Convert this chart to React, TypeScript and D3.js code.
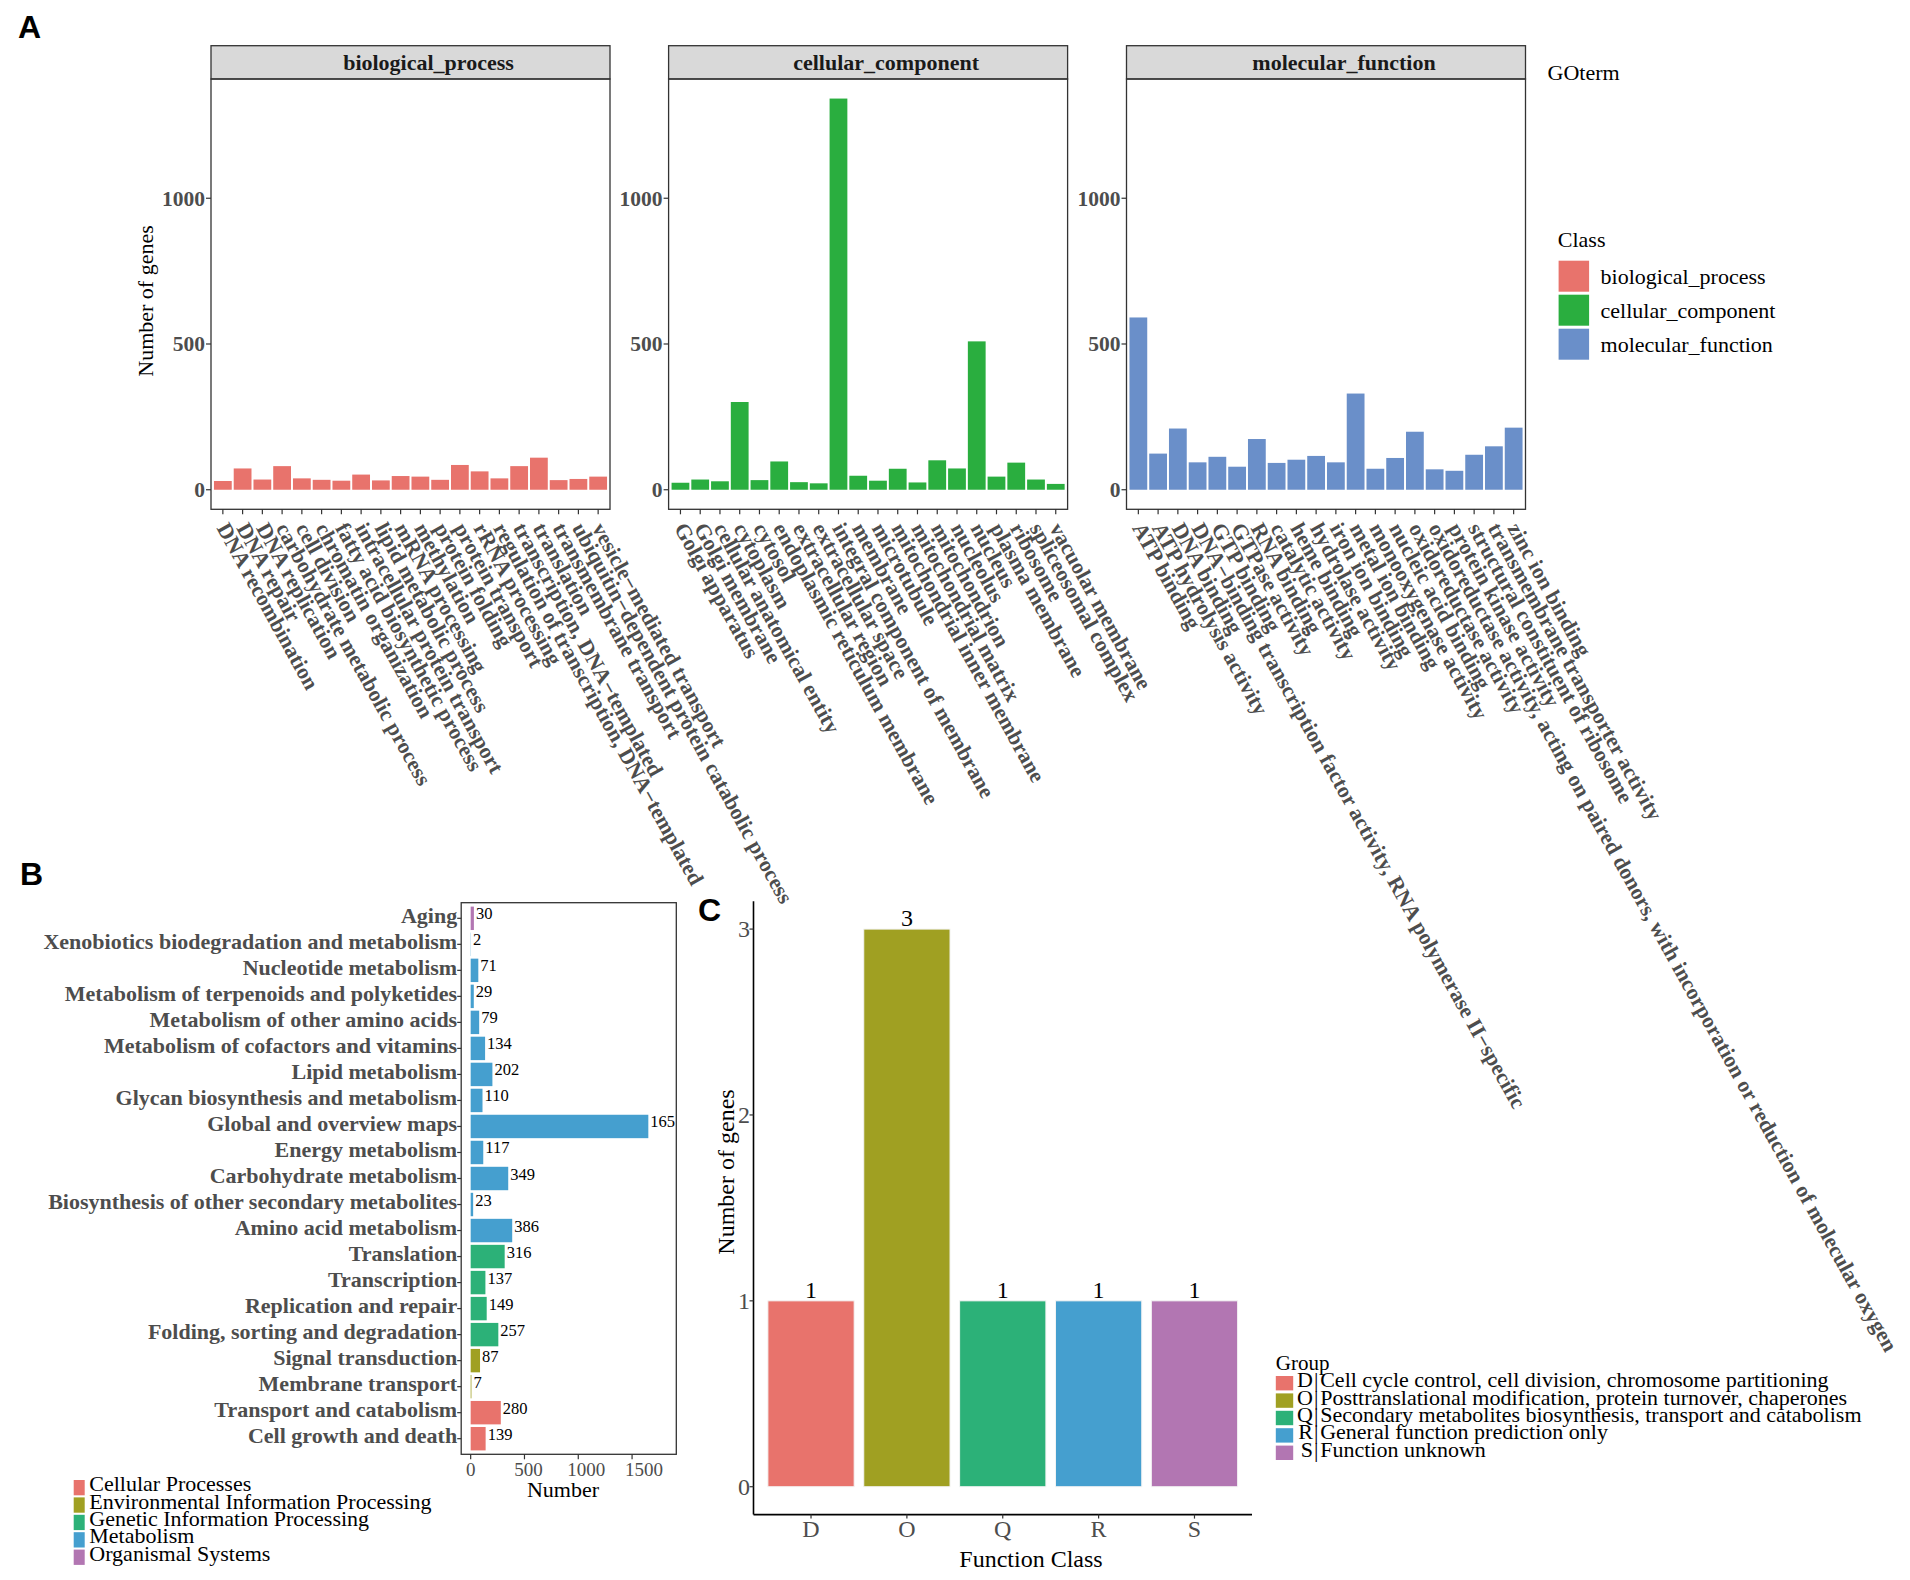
import React from 'react';
import * as d3 from 'd3';

// ---------- data ----------
const goPanels = ['biological_process', 'cellular_component', 'molecular_function'];

const bpTerms = [
  'DNA recombination', 'DNA repair', 'DNA replication', 'carbohydrate metabolic process',
  'cell division', 'chromatin organization', 'fatty acid biosynthetic process',
  'intracellular protein transport', 'lipid metabolic process', 'mRNA processing',
  'methylation', 'protein folding', 'protein transport', 'rRNA processing',
  'regulation of transcription, DNA\u2212templated', 'transcription, DNA\u2212templated',
  'translation', 'transmembrane transport', 'ubiquitin\u2212dependent protein catabolic process',
  'vesicle\u2212mediated transport',
];
const bpCounts = [30, 73, 35, 81, 39, 34, 31, 52, 32, 47, 45, 34, 85, 63, 39, 81, 110, 33, 37, 45];

const ccTerms = [
  'Golgi apparatus', 'Golgi membrane', 'cellular anatomical entity', 'cytoplasm', 'cytosol',
  'endoplasmic reticulum membrane', 'extracellular region', 'extracellular space',
  'integral component of membrane', 'membrane', 'microtubule', 'mitochondrial inner membrane',
  'mitochondrial matrix', 'mitochondrion', 'nucleolus', 'nucleus', 'plasma membrane',
  'ribosome', 'spliceosomal complex', 'vacuolar membrane',
];
const ccCounts = [24, 35, 29, 301, 33, 97, 26, 22, 1342, 48, 31, 72, 25, 101, 73, 509, 45, 93, 35, 20];

const mfTerms = [
  'ATP binding', 'ATP hydrolysis activity', 'DNA binding',
  'DNA\u2212binding transcription factor activity, RNA polymerase II\u2212specific',
  'GTP binding', 'GTPase activity', 'RNA binding', 'catalytic activity', 'heme binding',
  'hydrolase activity', 'iron ion binding', 'metal ion binding', 'monooxygenase activity',
  'nucleic acid binding', 'oxidoreductase activity',
  'oxidoreductase activity, acting on paired donors, with incorporation or reduction of molecular oxygen',
  'protein kinase activity', 'structural constituent of ribosome',
  'transmembrane transporter activity', 'zinc ion binding',
];
const mfCounts = [591, 124, 210, 94, 113, 79, 174, 92, 103, 116, 94, 330, 72, 109, 199, 70, 65, 120, 149, 213];

const goTicks = [0, 500, 1000];
const goColors = ['#E8736C', '#2AAE3F', '#6A8FC9'];

const keggPathways = [
  'Aging', 'Xenobiotics biodegradation and metabolism', 'Nucleotide metabolism',
  'Metabolism of terpenoids and polyketides', 'Metabolism of other amino acids',
  'Metabolism of cofactors and vitamins', 'Lipid metabolism', 'Glycan biosynthesis and metabolism',
  'Global and overview maps', 'Energy metabolism', 'Carbohydrate metabolism',
  'Biosynthesis of other secondary metabolites', 'Amino acid metabolism', 'Translation',
  'Transcription', 'Replication and repair', 'Folding, sorting and degradation',
  'Signal transduction', 'Membrane transport', 'Transport and catabolism', 'Cell growth and death',
];
const keggCounts = [30, 2, 71, 29, 79, 134, 202, 110, 1651, 117, 349, 23, 386, 316, 137, 149, 257, 87, 7, 280, 139];
const keggGroup = [4, 3, 3, 3, 3, 3, 3, 3, 3, 3, 3, 3, 3, 2, 2, 2, 2, 1, 1, 0, 0];
const keggGroups = [
  'Cellular Processes', 'Environmental Information Processing', 'Genetic Information Processing',
  'Metabolism', 'Organismal Systems',
];
const keggTicks = [0, 500, 1000, 1500];

const cogCodes = ['D', 'O', 'Q', 'R', 'S'];
const cogCounts = [1, 3, 1, 1, 1];
const cogNames = [
  'Cell cycle control, cell division, chromosome partitioning',
  'Posttranslational modification, protein turnover, chaperones',
  'Secondary metabolites biosynthesis, transport and catabolism',
  'General function prediction only',
  'Function unknown',
];
const cogTicks = [0, 1, 2, 3];
const groupColors = ['#E8736C', '#A0A022', '#2CB178', '#459FCF', '#B276B2'];

// ---------- styling ----------
const SERIF = "'Liberation Serif', 'Times New Roman', Times, serif";
const SANS = "'Liberation Sans', Arial, sans-serif";
const AXIS_GREY = '#4D4D4D';
const FRAME = '#333333';

// panel A geometry
const aLefts = [211, 668.6, 1126.5];
const aWidth = 399;
const stripTop = 45.7;
const stripBottom = 79;
const aBottom = 509.3;

// panel B geometry
const bLeft = 461.2, bRight = 676.3, bTop = 902.7, bBottom = 1454.3;

// panel C geometry
const cLeft = 753.5, cRight = 1252, cTop = 901.2, cBottom = 1514.6;

const App: React.FC = () => {
  // ----- A -----
  const goSeries = [
    { terms: bpTerms, counts: bpCounts },
    { terms: ccTerms, counts: ccCounts },
    { terms: mfTerms, counts: mfCounts },
  ];
  const aMax = d3.max(goSeries.flatMap(s => s.counts)) as number;
  const yA = d3.scaleLinear().domain([-0.05 * aMax, 1.05 * aMax]).range([aBottom, stripBottom]);

  // ----- B -----
  const yB = d3.scaleBand<string>().domain(keggPathways).range([bTop, bBottom])
    .paddingInner(0.1).paddingOuter(0.15);
  const xB = d3.scaleLinear().domain([-88, 1911]).range([bLeft, bRight]);

  // ----- C -----
  const xC = d3.scaleBand<string>().domain(cogCodes).range([cLeft, cRight])
    .paddingInner(0.1).paddingOuter(0.15);
  const yC = d3.scaleLinear().domain([-0.15, 3.15]).range([cBottom, cTop]);

  return (
    <svg width={1910} height={1580} style={{ position: 'absolute', left: 0, top: 0, background: '#fff' }}>
      <defs>
        <clipPath id="clipB">
          <rect x={bLeft} y={bTop} width={bRight - bLeft} height={bBottom - bTop} />
        </clipPath>
      </defs>
      <rect width={1910} height={1580} fill="#fff" />

      {/* ================= A ================= */}
      <text x={18} y={38} fontFamily={SANS} fontWeight="bold" fontSize={32}>A</text>
      <text transform={`translate(153,301) rotate(-90)`} textAnchor="middle"
        fontFamily={SERIF} fontSize={22}>Number of genes</text>

      {goSeries.map((s, pi) => {
        const left = aLefts[pi];
        const x = d3.scaleBand<string>().domain(s.terms).range([left, left + aWidth])
          .paddingInner(0.1).paddingOuter(0.15);
        return (
          <g key={goPanels[pi]}>
            {/* strip */}
            <rect x={left} y={stripTop} width={aWidth} height={stripBottom - stripTop}
              fill="#D9D9D9" stroke={FRAME} strokeWidth={1.3} />
            <text x={left + aWidth / 2 + 18} y={(stripTop + stripBottom) / 2 + 7.5} textAnchor="middle"
              fontFamily={SERIF} fontWeight="bold" fontSize={22} fill="#1A1A1A">{goPanels[pi]}</text>
            {/* bars */}
            {s.counts.map((v, i) => (
              <rect key={i} x={x(s.terms[i])} y={yA(v)} width={x.bandwidth()}
                height={yA(0) - yA(v)} fill={goColors[pi]} />
            ))}
            {/* frame */}
            <rect x={left} y={stripBottom} width={aWidth} height={aBottom - stripBottom}
              fill="none" stroke={FRAME} strokeWidth={1.3} />
            {/* y axis */}
            {goTicks.map(t => (
              <g key={t}>
                <line x1={left - 5} x2={left} y1={yA(t)} y2={yA(t)} stroke={FRAME} strokeWidth={1.2} />
                <text x={left - 6} y={yA(t) + 7.5} textAnchor="end" fontFamily={SERIF}
                  fontWeight="bold" fontSize={21.5} fill={AXIS_GREY}>{t}</text>
              </g>
            ))}
            {/* x axis */}
            {s.terms.map(term => {
              const cx = (x(term) as number) + x.bandwidth() / 2;
              return (
                <g key={term}>
                  <line x1={cx} x2={cx} y1={aBottom} y2={aBottom + 5} stroke={FRAME} strokeWidth={1.2} />
                  <text transform={`translate(${cx},${aBottom + 15}) rotate(61)`} dy="0.35em"
                    fontFamily={SERIF} fontWeight="bold" fontSize={21.8} fill={AXIS_GREY}>{term}</text>
                </g>
              );
            })}
          </g>
        );
      })}

      {/* A legend */}
      <text x={1547.6} y={80} fontFamily={SERIF} fontSize={22}>GOterm</text>
      <text x={1557.8} y={247} fontFamily={SERIF} fontSize={22}>Class</text>
      {goPanels.map((name, i) => (
        <g key={name}>
          <rect x={1558.6} y={260.7 + i * 34} width={30.5} height={31} fill={goColors[i]} />
          <text x={1600.6} y={260.7 + i * 34 + 15.5 + 7.5} fontFamily={SERIF} fontSize={22}>{name}</text>
        </g>
      ))}

      {/* ================= B ================= */}
      <text x={20} y={885} fontFamily={SANS} fontWeight="bold" fontSize={32}>B</text>
      <g clipPath="url(#clipB)">
        {keggCounts.map((v, i) => {
          const y0 = yB(keggPathways[i]) as number;
          return (
            <g key={keggPathways[i]}>
              <rect x={xB(0)} y={y0} width={xB(v) - xB(0)} height={yB.bandwidth()}
                fill={groupColors[keggGroup[i]]} />
              <text x={xB(v) + 2} y={y0 + yB.bandwidth() / 2 + 1} fontFamily={SERIF}
                fontSize={16.5} fill="#000">{v}</text>
            </g>
          );
        })}
      </g>
      <rect x={bLeft} y={bTop} width={bRight - bLeft} height={bBottom - bTop}
        fill="none" stroke={FRAME} strokeWidth={1.3} />
      {keggPathways.map(p => {
        const cy = (yB(p) as number) + yB.bandwidth() / 2;
        return (
          <g key={p}>
            <line x1={bLeft - 4} x2={bLeft} y1={cy} y2={cy} stroke={FRAME} strokeWidth={1.2} />
            <text x={bLeft - 4} y={cy + 4.5} textAnchor="end" fontFamily={SERIF}
              fontWeight="bold" fontSize={22} fill={AXIS_GREY}>{p}</text>
          </g>
        );
      })}
      {keggTicks.map(t => (
        <g key={t}>
          <line x1={xB(t)} x2={xB(t)} y1={bBottom} y2={bBottom + 5} stroke={FRAME} strokeWidth={1.2} />
          <text x={xB(t)} dx={t * 0.008} y={1476} textAnchor="middle" fontFamily={SERIF} fontSize={19}
            fill={AXIS_GREY}>{t}</text>
        </g>
      ))}
      <text x={563} y={1497} textAnchor="middle" fontFamily={SERIF} fontSize={22}>Number</text>
      {keggGroups.map((g, i) => (
        <g key={g}>
          <rect x={73.7} y={1480 + i * 17.4} width={11} height={15.3} fill={groupColors[i]} />
          <text x={89.3} y={1480 + i * 17.4 + 7.6 + 3.5} fontFamily={SERIF} fontSize={22}>{g}</text>
        </g>
      ))}

      {/* ================= C ================= */}
      <text x={698} y={921} fontFamily={SANS} fontWeight="bold" fontSize={32}>C</text>
      {cogCounts.map((v, i) => {
        const x0 = xC(cogCodes[i]) as number;
        return (
          <g key={cogCodes[i]}>
            <rect x={x0} y={yC(v)} width={xC.bandwidth()} height={yC(0) - yC(v)}
              fill={groupColors[i]} stroke="#F4F4F4" strokeWidth={1} />
            <text x={x0 + xC.bandwidth() / 2} y={yC(v) - 3} textAnchor="middle"
              fontFamily={SERIF} fontSize={24}>{v}</text>
          </g>
        );
      })}
      <line x1={cLeft} x2={cLeft} y1={cTop} y2={cBottom} stroke="#000" strokeWidth={1.6} />
      <line x1={cLeft} x2={cRight} y1={cBottom} y2={cBottom} stroke="#000" strokeWidth={1.6} />
      {cogTicks.map(t => (
        <g key={t}>
          <line x1={cLeft - 4} x2={cLeft} y1={yC(t)} y2={yC(t)} stroke="#333" strokeWidth={1.2} />
          <text x={cLeft - 3.5} y={yC(t) + 8} textAnchor="end" fontFamily={SERIF} fontSize={24}
            fill={AXIS_GREY}>{t}</text>
        </g>
      ))}
      {cogCodes.map(c => {
        const cx = (xC(c) as number) + xC.bandwidth() / 2;
        return (
          <g key={c}>
            <line x1={cx} x2={cx} y1={cBottom} y2={cBottom + 4} stroke="#333" strokeWidth={1.2} />
            <text x={cx} y={1537} textAnchor="middle" fontFamily={SERIF} fontSize={24}
              fill={AXIS_GREY}>{c}</text>
          </g>
        );
      })}
      <text x={1031} y={1567} textAnchor="middle" fontFamily={SERIF} fontSize={24}>Function Class</text>
      <text transform="translate(734,1172) rotate(-90)" textAnchor="middle" fontFamily={SERIF}
        fontSize={24}>Number of genes</text>

      {/* C legend */}
      <text x={1275.8} y={1369.5} fontFamily={SERIF} fontSize={21}>Group</text>
      {cogCodes.map((c, i) => {
        const ky = 1376 + i * 17.4;
        const by = ky + 7.2 + 4;
        return (
          <g key={c}>
            <rect x={1275.8} y={ky} width={17.4} height={14.4} fill={groupColors[i]} />
            <text x={1313} y={by} textAnchor="end" fontFamily={SERIF} fontSize={22}>{c}</text>
            <text x={1314} y={by} fontFamily={SERIF} fontSize={22}>|</text>
            <text x={1320.2} y={by} fontFamily={SERIF} fontSize={22}>{cogNames[i]}</text>
          </g>
        );
      })}
    </svg>
  );
};

export default App;
